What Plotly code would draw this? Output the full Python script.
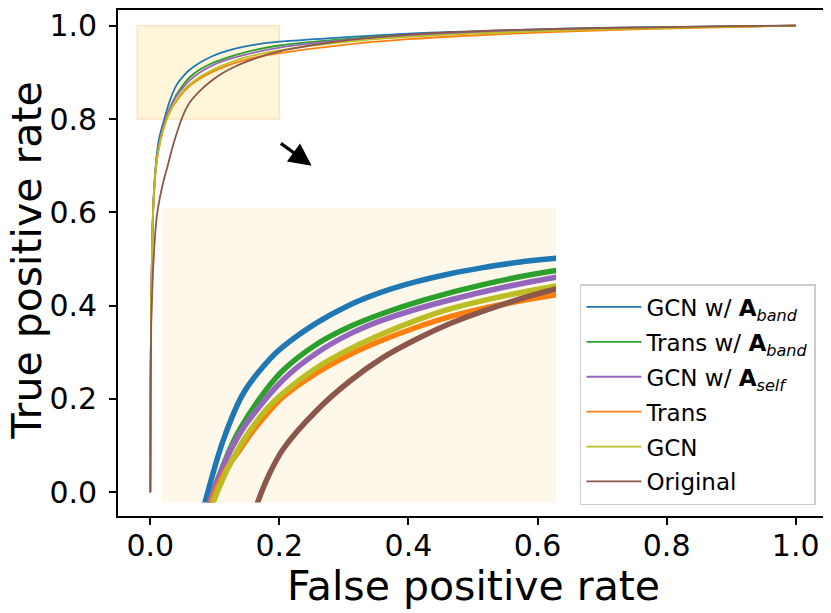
import plotly.graph_objects as go

# ROC curves (fpr, tpr per model)
fpr_gcn_band = [0, 0.0005, 0.0015, 0.003, 0.005, 0.009, 0.014, 0.0218, 0.0311, 0.0413, 0.0548, 0.0616,
                0.0785, 0.0942, 0.1114, 0.1286, 0.1457, 0.1629, 0.18, 0.2, 0.3, 0.4, 0.5, 0.6, 0.7, 0.8, 0.9, 1.0]
tpr_gcn_band = [0, 0.25, 0.42, 0.54, 0.63, 0.71, 0.76, 0.80, 0.8424, 0.8742, 0.8975, 0.906,
                0.922, 0.9335, 0.9428, 0.9498, 0.9552, 0.9595, 0.963, 0.9658, 0.975, 0.983, 0.988, 0.992, 0.995, 0.997, 0.999, 1.0]

fpr_trans_band = [0, 0.0005, 0.0015, 0.003, 0.005, 0.009, 0.015, 0.0244, 0.0328, 0.0396, 0.0531, 0.0616,
                  0.0785, 0.0954, 0.1123, 0.1327, 0.1629, 0.2, 0.3, 0.4, 0.5, 0.6, 0.7, 0.8, 0.9, 1.0]
tpr_trans_band = [0, 0.24, 0.41, 0.53, 0.62, 0.70, 0.755, 0.80, 0.831, 0.850, 0.877, 0.89,
                  0.9075, 0.9195, 0.9285, 0.9375, 0.948, 0.9575, 0.971, 0.980, 0.986, 0.990, 0.993, 0.996, 0.998, 1.0]

fpr_gcn_self = [0, 0.0005, 0.0015, 0.003, 0.005, 0.009, 0.015, 0.024, 0.0328, 0.0396, 0.0447, 0.0616,
                0.0785, 0.0954, 0.1123, 0.1445, 0.2, 0.3, 0.4, 0.5, 0.6, 0.7, 0.8, 0.9, 1.0]
tpr_gcn_self = [0, 0.24, 0.41, 0.53, 0.62, 0.70, 0.755, 0.80, 0.83, 0.847, 0.857, 0.8835,
                0.9015, 0.9145, 0.924, 0.937, 0.953, 0.969, 0.979, 0.985, 0.990, 0.993, 0.996, 0.998, 1.0]

fpr_trans = [0, 0.0005, 0.0015, 0.003, 0.005, 0.009, 0.016, 0.025, 0.032, 0.0396, 0.0447, 0.0531, 0.0616,
             0.0785, 0.0954, 0.1123, 0.1293, 0.1462, 0.1629, 0.2, 0.3, 0.4, 0.5, 0.6, 0.7, 0.8, 0.9, 1.0]
tpr_trans = [0, 0.24, 0.41, 0.53, 0.62, 0.70, 0.755, 0.80, 0.821, 0.836, 0.846, 0.860, 0.8718,
             0.888, 0.9005, 0.9105, 0.919, 0.9262, 0.9318, 0.941, 0.959, 0.971, 0.979, 0.985, 0.990, 0.994, 0.997, 1.0]

fpr_gcn = [0, 0.0005, 0.0015, 0.003, 0.005, 0.009, 0.016, 0.026, 0.033, 0.0396, 0.0447, 0.0531, 0.0616,
           0.0785, 0.0954, 0.1123, 0.1293, 0.1462, 0.2, 0.3, 0.4, 0.5, 0.6, 0.7, 0.8, 0.9, 1.0]
tpr_gcn = [0, 0.24, 0.41, 0.53, 0.62, 0.70, 0.755, 0.80, 0.822, 0.8385, 0.849, 0.8635, 0.8745,
           0.8915, 0.9043, 0.9148, 0.9238, 0.9315, 0.947, 0.965, 0.976, 0.983, 0.988, 0.992, 0.995, 0.998, 1.0]

fpr_orig = [0, 0.0005, 0.0015, 0.003, 0.006, 0.010, 0.015, 0.020, 0.027, 0.036, 0.048, 0.054, 0.0616, 0.0785,
            0.0954, 0.1123, 0.1293, 0.1462, 0.163, 0.2, 0.3, 0.4, 0.5, 0.6, 0.7, 0.8, 0.9, 1.0]
tpr_orig = [0, 0.2, 0.36, 0.43, 0.52, 0.59, 0.632, 0.664, 0.70, 0.747, 0.798, 0.818, 0.8365, 0.8625,
            0.8825, 0.8985, 0.911, 0.9215, 0.93, 0.945, 0.968, 0.981, 0.988, 0.992, 0.995, 0.997, 0.999, 1.0]

names = ['GCN w/ <b>A</b><sub><i>band</i></sub>',
         'Trans w/ <b>A</b><sub><i>band</i></sub>',
         'GCN w/ <b>A</b><sub><i>self</i></sub>',
         'Trans',
         'GCN',
         'Original']
colors = ['#1f77b4', '#2ca02c', '#9467bd', '#ff7f0e', '#bcbd22', '#8c564b']
curves = [(fpr_gcn_band, tpr_gcn_band), (fpr_trans_band, tpr_trans_band), (fpr_gcn_self, tpr_gcn_self),
          (fpr_trans, tpr_trans), (fpr_gcn, tpr_gcn), (fpr_orig, tpr_orig)]

ticks = [0.0, 0.2, 0.4, 0.6, 0.8, 1.0]

fig = go.Figure()
for i, (name, c, (fx, ty)) in enumerate(zip(names, colors, curves)):
    fig.add_trace(go.Scatter(x=fx, y=ty, name=name, mode='lines', legendgroup=str(i),
                             line=dict(color=c, width=1.8, shape='spline', smoothing=1.0)))
# zoomed inset (same data, x 0-0.2 / y 0.8-1.0)
for i, (name, c, (fx, ty)) in enumerate(zip(names, colors, curves)):
    fig.add_trace(go.Scatter(x=fx, y=ty, mode='lines', showlegend=False, xaxis='x2', yaxis='y2',
                             line=dict(color=c, width=5.5, shape='spline', smoothing=1.0)))

axis_style = dict(showgrid=False, zeroline=False, showline=True, mirror=True, linecolor='black',
                  linewidth=1.6, ticks='outside', ticklen=7, tickwidth=1.6, tickcolor='black',
                  tickvals=ticks, tickformat='.1f', tickfont=dict(size=30, color='black'),
                  automargin=False)

# page body adds an 8px offset, so the figure is 8px smaller than the window
fig.update_layout(
    width=823, height=605,
    margin=dict(l=110, r=3, t=2, b=97),
    plot_bgcolor='rgba(0,0,0,0)', paper_bgcolor='white',
    font=dict(family='DejaVu Sans', color='black'),
    xaxis=dict(range=[-0.05, 1.05], ticklabelstandoff=-5, **axis_style),
    yaxis=dict(range=[-0.0508, 1.0336], ticklabelstandoff=6, **axis_style),
    xaxis2=dict(domain=[0.062, 0.617], anchor='y2', range=[0, 0.2], visible=False),
    yaxis2=dict(domain=[0.0267, 0.6087], anchor='x2', range=[0.8, 1.0], visible=False),
    legend=dict(x=0.983, y=0.0217, xanchor='right', yanchor='bottom', font=dict(size=23),
                bgcolor='white', bordercolor='#cccccc', borderwidth=1.5, tracegroupgap=2,
                itemwidth=55),
    shapes=[
        dict(type='rect', xref='x', yref='y', x0=-0.02, x1=0.2, y0=0.8, y1=1.0,
             fillcolor='#fff6da', line=dict(color='#fde2c4', width=1.5), layer='below'),
        dict(type='rect', xref='x2 domain', yref='y2 domain', x0=0, x1=1, y0=0, y1=1,
             fillcolor='#fef8eb', line=dict(width=0), layer='below'),
    ],
    annotations=[
        dict(x=0.25, y=0.70, ax=0.2, ay=0.75, xref='x', yref='y', axref='x', ayref='y',
             text='', showarrow=True, arrowhead=2, arrowsize=1.4, arrowwidth=3.2, arrowcolor='black'),
        dict(text='False positive rate', x=0.5, y=0, xref='paper', yref='paper',
             xanchor='center', yanchor='middle', yshift=-70, showarrow=False, font=dict(size=41)),
        dict(text='True positive rate', x=0, y=0.505, xref='paper', yref='paper', textangle=-90,
             xanchor='center', yanchor='middle', xshift=-91, showarrow=False, font=dict(size=41)),
    ],
)

fig.write_html("out.html")
